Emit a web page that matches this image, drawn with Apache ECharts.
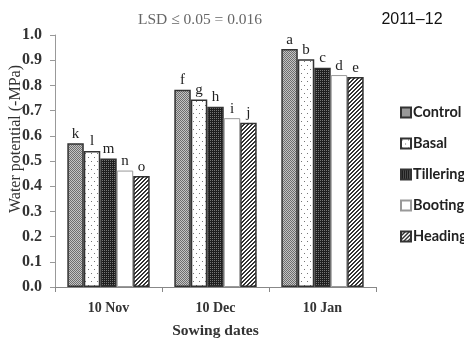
<!DOCTYPE html>
<html><head><meta charset="utf-8">
<script src="https://cdn.jsdelivr.net/npm/echarts@6/dist/echarts.min.js"></script>
<style>html,body{margin:0;padding:0;background:#fff}#c{width:464px;height:344px}</style>
</head><body><div id="c"></div>
<script>
const categories = ['10 Nov', '10 Dec', '10 Jan'];
const seriesNames = ['Control', 'Basal', 'Tillering', 'Booting', 'Heading'];
const control = [0.57, 0.783, 0.944];
const basal = [0.54, 0.744, 0.904];
const tillering = [0.51, 0.715, 0.87];
const booting = [0.462, 0.67, 0.841];
const heading = [0.44, 0.652, 0.833];
const letters = [['k','f','a'], ['l','g','b'], ['m','h','c'], ['n','i','d'], ['o','j','e']];
const yTicks = ['0.0','0.1','0.2','0.3','0.4','0.5','0.6','0.7','0.8','0.9','1.0'];

function pat(w, h, draw) {
  const c = document.createElement('canvas'); c.width = w; c.height = h;
  const g = c.getContext('2d'); draw(g, w, h);
  return { image: c, repeat: 'repeat' };
}
const patterns = [
  pat(2, 2, (g) => { g.fillStyle = '#c4c4c4'; g.fillRect(0,0,2,2); g.fillStyle = '#6e6e6e'; g.fillRect(0,0,1,1); g.fillRect(1,1,1,1); }),
  pat(6, 8, (g) => { g.fillStyle = '#fff'; g.fillRect(0,0,6,8); g.fillStyle = '#777'; g.fillRect(1,1,1,1); g.fillRect(4,5,1,1); }),
  pat(2, 2, (g) => { g.fillStyle = '#1e1e1e'; g.fillRect(0,0,2,2); g.fillStyle = '#777'; g.fillRect(0,0,1,1); }),
  '#ffffff',
  pat(4, 4, (g) => { g.fillStyle = '#fff'; g.fillRect(0,0,4,4); g.fillStyle = '#333';
    for (let i = 0; i < 4; i++) { g.fillRect(3 - i, i, 1, 1); g.fillRect((4 - i) % 4, i, 1, 1); } })
];
const values = [control, basal, tillering, booting, heading];

const chart = echarts.init(document.getElementById('c'), null, { renderer: 'canvas' });
chart.setOption({
  animation: false,
  backgroundColor: '#fff',
  title: [
    { text: 'LSD \u2264 0.05 = 0.016', left: 195, top: 7, textAlign: 'center',
      textStyle: { fontFamily: 'Liberation Serif', fontWeight: 'normal', fontSize: 15.5, color: '#666' } },
    { text: '2011\u201312', left: 407, top: 7, textAlign: 'center',
      textStyle: { fontFamily: 'Liberation Sans', fontWeight: 'normal', fontSize: 16, color: '#111' } }
  ],
  graphic: [{
    type: 'text', x: 8, y: 139, rotation: Math.PI / 2,
    style: { text: 'Water potential (-MPa)', font: '16px "Liberation Serif"', fill: '#333',
      align: 'center', verticalAlign: 'top' }
  }],
  legend: {
    orient: 'vertical', left: 395, top: 100, itemGap: 16, itemWidth: 10, itemHeight: 10,
    icon: 'rect', data: seriesNames,
    textStyle: { fontFamily: 'Lato', fontWeight: 'bold', fontSize: 14.5, color: '#222', padding: [0,0,0,-3] }
  },
  grid: { left: 55, right: 88, top: 35, bottom: 55 },
  xAxis: {
    type: 'category', data: categories,
    name: 'Sowing dates', nameLocation: 'middle', nameGap: 36,
    nameTextStyle: { fontFamily: 'Liberation Serif', fontWeight: 'bold', fontSize: 15.5, color: '#333' },
    axisLine: { lineStyle: { color: '#888', width: 1 } },
    axisTick: { show: true, alignWithLabel: false, length: 5, lineStyle: { color: '#888' } },
    axisLabel: { fontFamily: 'Liberation Serif', fontWeight: 'bold', fontSize: 14, color: '#333', margin: 14 }
  },
  yAxis: {
    type: 'value', min: 0, max: 1, interval: 0.1,
    axisLine: { show: true, lineStyle: { color: '#999' } },
    axisTick: { show: true, length: 5, lineStyle: { color: '#999' } },
    splitLine: { show: false },
    axisLabel: { fontFamily: 'Liberation Serif', fontWeight: 'bold', fontSize: 16, color: '#333', margin: 13,
      formatter: (v) => yTicks[Math.round(v * 10)] }
  },
  series: seriesNames.map((name, i) => ({
    name, type: 'bar', data: values[i], barGap: '0%', barCategoryGap: '23%',
    itemStyle: { color: patterns[i], borderColor: i === 3 ? '#999' : '#333', borderWidth: i === 3 ? 1 : 1.5 },
    label: { show: true, position: 'top', distance: 2,
      formatter: (p) => letters[i][p.dataIndex],
      fontFamily: 'Liberation Serif', fontSize: 15, color: '#222' }
  }))
});
</script></body></html>
